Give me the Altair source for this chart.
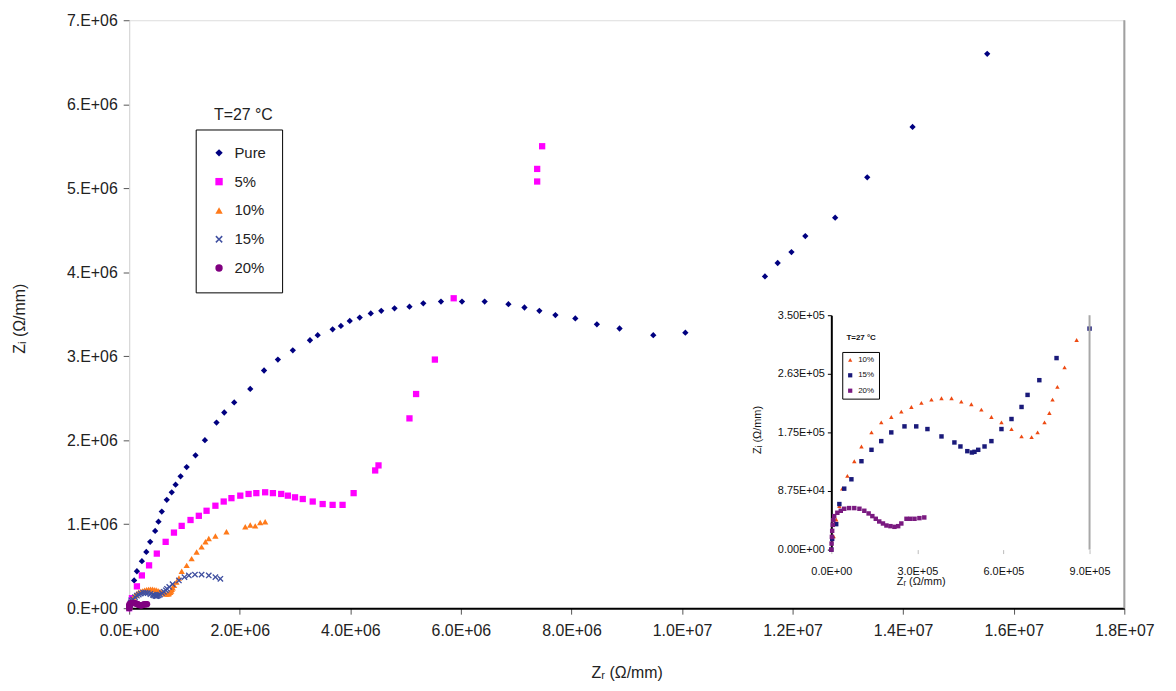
import altair as alt
import pandas as pd

# ---------------- data ----------------
SERIES = ["Pure", "5%", "10%", "15%", "20%"]

pure_x = [0, 0.04e6, 0.09e6, 0.14e6, 0.23e6, 0.31e6, 0.38e6, 0.47e6, 0.53e6, 0.59e6, 0.68e6, 0.77e6,
          0.84e6, 0.93e6, 1.04e6, 1.20e6, 1.37e6, 1.58e6, 1.72e6, 1.90e6, 2.19e6, 2.44e6, 2.69e6,
          2.96e6, 3.27e6, 3.41e6, 3.68e6, 3.83e6, 3.99e6, 4.17e6, 4.37e6, 4.56e6, 4.80e6, 5.07e6,
          5.32e6, 5.64e6, 6.02e6, 6.43e6, 6.86e6, 7.15e6, 7.42e6, 7.71e6, 8.07e6, 8.46e6, 8.87e6,
          9.48e6, 10.06e6, 11.50e6, 11.73e6, 11.98e6, 12.23e6, 12.77e6, 13.35e6, 14.17e6, 15.52e6]
pure_y = [0, 0.12e6, 0.33e6, 0.44e6, 0.56e6, 0.67e6, 0.79e6, 0.92e6, 1.03e6, 1.15e6, 1.29e6, 1.38e6,
          1.47e6, 1.57e6, 1.68e6, 1.82e6, 2.00e6, 2.21e6, 2.33e6, 2.45e6, 2.61e6, 2.83e6, 2.96e6,
          3.07e6, 3.19e6, 3.25e6, 3.32e6, 3.36e6, 3.42e6, 3.46e6, 3.51e6, 3.54e6, 3.57e6, 3.59e6,
          3.63e6, 3.65e6, 3.65e6, 3.65e6, 3.62e6, 3.58e6, 3.54e6, 3.49e6, 3.45e6, 3.38e6, 3.33e6,
          3.25e6, 3.28e6, 3.95e6, 4.11e6, 4.24e6, 4.43e6, 4.65e6, 5.13e6, 5.73e6, 6.60e6]

p5_x = [0, 0.05e6, 0.14e6, 0.23e6, 0.36e6, 0.50e6, 0.66e6, 0.81e6, 0.95e6, 1.11e6, 1.26e6, 1.40e6,
        1.56e6, 1.71e6, 1.85e6, 2.01e6, 2.16e6, 2.30e6, 2.46e6, 2.60e6, 2.75e6, 2.87e6, 3.00e6,
        3.14e6, 3.32e6, 3.50e6, 3.68e6, 3.86e6, 4.06e6, 4.45e6, 4.51e6, 5.07e6, 5.19e6, 5.53e6,
        5.87e6, 7.38e6, 7.38e6, 7.47e6]
p5_y = [0, 0.12e6, 0.26e6, 0.39e6, 0.51e6, 0.65e6, 0.79e6, 0.90e6, 0.98e6, 1.05e6, 1.10e6, 1.16e6,
        1.22e6, 1.27e6, 1.31e6, 1.34e6, 1.36e6, 1.37e6, 1.38e6, 1.37e6, 1.36e6, 1.34e6, 1.32e6,
        1.30e6, 1.27e6, 1.24e6, 1.23e6, 1.23e6, 1.37e6, 1.64e6, 1.70e6, 2.26e6, 2.55e6, 2.96e6,
        3.69e6, 5.08e6, 5.23e6, 5.50e6]

p10_x = [0, 8e3, 17e3, 28e3, 38e3, 56e3, 80e3, 105e3, 140e3, 174e3, 209e3, 244e3, 279e3, 314e3,
         349e3, 384e3, 419e3, 453e3, 488e3, 523e3, 558e3, 593e3, 628e3, 663e3, 698e3, 719e3,
         743e3, 760e3, 771e3, 788e3, 813e3, 855e3, 0.90e6, 0.95e6, 1.04e6, 1.13e6, 1.22e6,
         1.31e6, 1.38e6, 1.44e6, 1.56e6, 1.76e6, 2.10e6, 2.19e6, 2.28e6, 2.37e6, 2.46e6]
p10_y = [0, 20e3, 45e3, 65e3, 91e3, 110e3, 132e3, 154e3, 175e3, 190e3, 198e3, 206e3, 213e3, 219e3,
         224e3, 226e3, 226e3, 221e3, 217e3, 209e3, 198e3, 190e3, 180e3, 169e3, 168e3, 175e3,
         190e3, 204e3, 224e3, 243e3, 272e3, 313e3, 0.36e6, 0.44e6, 0.51e6, 0.59e6, 0.67e6,
         0.73e6, 0.79e6, 0.83e6, 0.86e6, 0.91e6, 0.97e6, 0.99e6, 0.98e6, 1.02e6, 1.03e6]

p15_x = [0, 3e3, 17e3, 28e3, 45e3, 70e3, 105e3, 140e3, 174e3, 209e3, 255e3, 296e3, 335e3, 384e3,
         429e3, 450e3, 474e3, 490e3, 499e3, 512e3, 534e3, 558e3, 593e3, 628e3, 663e3, 684e3,
         725e3, 785e3, 0.90e6, 1.00e6, 1.08e6, 1.19e6, 1.31e6, 1.44e6, 1.56e6, 1.65e6]
p15_y = [0, 16e3, 38e3, 68e3, 91e3, 105e3, 132e3, 149e3, 162e3, 175e3, 184e3, 184e3, 180e3, 169e3,
         160e3, 154e3, 147e3, 145e3, 146e3, 149e3, 154e3, 162e3, 180e3, 195e3, 213e3, 231e3,
         253e3, 286e3, 0.33e6, 0.37e6, 0.39e6, 0.40e6, 0.40e6, 0.39e6, 0.37e6, 0.35e6]

p20_x = [0, 1e3, 2e3, 3e3, 5e3, 7e3, 10e3, 21e3, 33e3, 45e3, 62e3, 80e3, 98e3, 115e3, 130e3, 143e3,
         155e3, 167e3, 180e3, 192e3, 206e3, 220e3, 233e3, 244e3, 262e3, 275e3, 290e3, 307e3, 324e3]
p20_y = [0, 9e3, 19e3, 28e3, 37e3, 44e3, 50e3, 55e3, 58e3, 61e3, 62e3, 62e3, 61e3, 58e3, 54e3, 50e3,
         46e3, 42e3, 39e3, 36e3, 35e3, 34e3, 35e3, 39e3, 46e3, 46e3, 46e3, 47e3, 48e3]

x_ticks = [0, 2e6, 4e6, 6e6, 8e6, 10e6, 12e6, 14e6, 16e6, 18e6]
y_ticks = [0, 1e6, 2e6, 3e6, 4e6, 5e6, 6e6, 7e6]
inset_x_ticks = [0, 3e5, 6e5, 9e5]
inset_y_ticks = [0, 8.75e4, 1.75e5, 2.625e5, 3.5e5]
INSET_SERIES = ["10%", "15%", "20%"]

# ---------------- tables ----------------
rows = []
for name, xs_, ys_ in zip(SERIES, [pure_x, p5_x, p10_x, p15_x, p20_x], [pure_y, p5_y, p10_y, p15_y, p20_y]):
    for a, b in zip(xs_, ys_):
        rows.append({"x": a, "y": b, "series": name})
df = pd.DataFrame(rows)

irows = []
for name, xs_, ys_ in zip(INSET_SERIES, [p10_x, p15_x, p20_x], [p10_y, p15_y, p20_y]):
    for a, b in zip(xs_, ys_):
        if a <= 9e5 and b <= 3.5e5:
            irows.append({"ix": a, "iy": b, "iseries": name})
idf = pd.DataFrame(irows)

# ---------------- styling ----------------
FONT = "Liberation Sans"
COLORS = ["#000080", "#FF00FF", "#FF7A1A", "#3F4FA0", "#800080"]
X_SHAPE = "M-1,-0.7L-0.7,-1L0,-0.3L0.7,-1L1,-0.7L0.3,0L1,0.7L0.7,1L0,0.3L-0.7,1L-1,0.7L-0.3,0Z"
SHAPES = ["diamond", "square", "triangle-up", X_SHAPE, "circle"]
INSET_COLORS = ["#EE4A12", "#1A1A7A", "#7A1A80"]
INSET_SHAPES = ["triangle-up", "square", "square"]

W, H = 1002, 592
PAD_L, PAD_T = 122, 10


def sci(fmt, zero, dot=""):
    e = "floor(log(abs(datum.value)) / LN10 + 1e-9)"
    return (f"datum.value == 0 ? '{zero}' : format(datum.value / pow(10, {e}), '{fmt}') + '{dot}E+' + "
            f"({e} < 10 ? '0' : '') + {e}")


x_axis = alt.Axis(values=x_ticks, labelExpr=sci(".1f", "0.0E+00"), grid=False, domainColor="#000000",
                  domainWidth=2, tickColor="#555555", tickSize=6, labelPadding=8, labelFlush=False,
                  labelFont=FONT, labelFontSize=16, labelColor="#222222",
                  title="Zᵣ (Ω/mm)", titleFont=FONT, titleFontSize=16, titleFontWeight="normal",
                  titleColor="#222222", titleY=65, titleBaseline="middle")
y_axis = alt.Axis(values=y_ticks, labelExpr=sci(".0f", "0.E+00", "."), grid=False, domainColor="#D8D8D8",
                  tickColor="#555555", tickSize=6, labelPadding=6, labelFlush=False,
                  labelFont=FONT, labelFontSize=16, labelColor="#222222",
                  title="Zᵢ (Ω/mm)", titleFont=FONT, titleFontSize=16, titleFontWeight="normal",
                  titleColor="#222222", titleX=-110, titleY=300, titleBaseline="middle", titleAlign="center")

xs = alt.Scale(domain=[0, 1.8e7], nice=False, zero=False)
ys = alt.Scale(domain=[0, 7e6], nice=False, zero=False)

main_pts = alt.Chart(df).mark_point(filled=True, opacity=1, size=40).encode(
    x=alt.X("x:Q", scale=xs, axis=x_axis),
    y=alt.Y("y:Q", scale=ys, axis=y_axis),
    color=alt.Color("series:N", scale=alt.Scale(domain=SERIES, range=COLORS),
                    legend=alt.Legend(orient="none", legendX=67, legendY=110, title=None,
                                      strokeColor="#000000", padding=16, rowPadding=13,
                                      labelFont=FONT, labelFontSize=15, labelColor="#222222",
                                      symbolSize=55, labelOffset=8,
                                      labelExpr="datum.label + '      '")),
    shape=alt.Shape("series:N", scale=alt.Scale(domain=SERIES, range=SHAPES),
                    legend=alt.Legend(orient="none", legendX=67, legendY=110, title=None)),
)

border_df = pd.DataFrame({"x": [1.8e7], "y": [0], "y2": [7e6]})
border = alt.Chart(border_df).mark_rule(color="#A0A0A0", strokeWidth=2).encode(
    x=alt.X("x:Q", scale=xs, axis=x_axis), y=alt.Y("y:Q", scale=ys, axis=y_axis), y2="y2:Q")

legend_title = alt.Chart(pd.DataFrame({"t": ["T=27 °C"]})).mark_text(
    font=FONT, fontSize=16, color="#222222", align="center", baseline="middle").encode(
    x=alt.value(115), y=alt.value(95), text="t:N")

main_layer = alt.layer(main_pts, border, legend_title)

# ---------------- inset ----------------
ixs = alt.Scale(domain=[0, 9e5], range=[707, 967], nice=False, zero=False)
iys = alt.Scale(domain=[0, 3.5e5], range=[533, 297], nice=False, zero=False)

ix_axis = alt.Axis(orient="bottom", offset=-59, values=inset_x_ticks, labelExpr=sci(".1f", "0.0E+00"),
                   grid=False, domain=False, tickColor="#BBBBBB", tickSize=4, labelPadding=12,
                   labelFlush=False, labelFont=FONT, labelFontSize=11, labelColor="#111111",
                   title="Zᵣ (Ω/mm)", titleFont=FONT, titleFontSize=11, titleFontWeight="normal",
                   titleColor="#111111", titleX=797, titleY=32, titleBaseline="middle")
iy_axis = alt.Axis(orient="left", offset=-707, values=inset_y_ticks, labelExpr=sci(".2f", "0.00E+00"),
                   grid=False, domainColor="#000000", domainWidth=2, tickColor="#000000", tickSize=4,
                   labelPadding=3, labelFlush=False, labelFont=FONT, labelFontSize=11, labelColor="#111111",
                   title="Zᵢ (Ω/mm)", titleFont=FONT, titleFontSize=11, titleFontWeight="normal",
                   titleColor="#111111", titleX=-74, titleY=412, titleBaseline="middle", titleAlign="center")

inset_pts = alt.Chart(idf).mark_point(filled=True, opacity=1, size=20).encode(
    x=alt.X("ix:Q", scale=ixs, axis=ix_axis),
    y=alt.Y("iy:Q", scale=iys, axis=iy_axis),
    color=alt.Color("iseries:N", scale=alt.Scale(domain=INSET_SERIES, range=INSET_COLORS),
                    legend=alt.Legend(orient="none", legendX=718, legendY=334, title=None,
                                      strokeColor="#000000", padding=4, rowPadding=7.5,
                                      labelFont=FONT, labelFontSize=8, labelColor="#111111",
                                      symbolSize=18, labelOffset=4)),
    shape=alt.Shape("iseries:N", scale=alt.Scale(domain=INSET_SERIES, range=INSET_SHAPES),
                    legend=alt.Legend(orient="none", legendX=718, legendY=334, title=None)),
)

iborder_df = pd.DataFrame({"ix": [9e5], "iy": [0], "iy2": [3.5e5]})
iborder = alt.Chart(iborder_df).mark_rule(color="#A8A8A8", strokeWidth=2).encode(
    x=alt.X("ix:Q", scale=ixs, axis=ix_axis), y=alt.Y("iy:Q", scale=iys, axis=iy_axis), y2="iy2:Q")

ilegend_title = alt.Chart(pd.DataFrame({"t": ["T=27 °C"]})).mark_text(
    font=FONT, fontSize=8, fontWeight="bold", color="#111111", align="center", baseline="middle").encode(
    x=alt.value(737), y=alt.value(320), text="t:N")

inset_layer = alt.layer(inset_pts, iborder, ilegend_title)

chart = alt.layer(main_layer, inset_layer).resolve_scale(
    x="independent", y="independent", color="independent", shape="independent"
).properties(
    width=W, height=H,
    autosize=alt.AutoSizeParams(type="none"),
    padding={"left": PAD_L, "top": PAD_T, "right": 44, "bottom": 75},
).configure_view(stroke=None).configure(background="white")

chart.save("out.html", embed_options={"renderer": "svg", "actions": False})
